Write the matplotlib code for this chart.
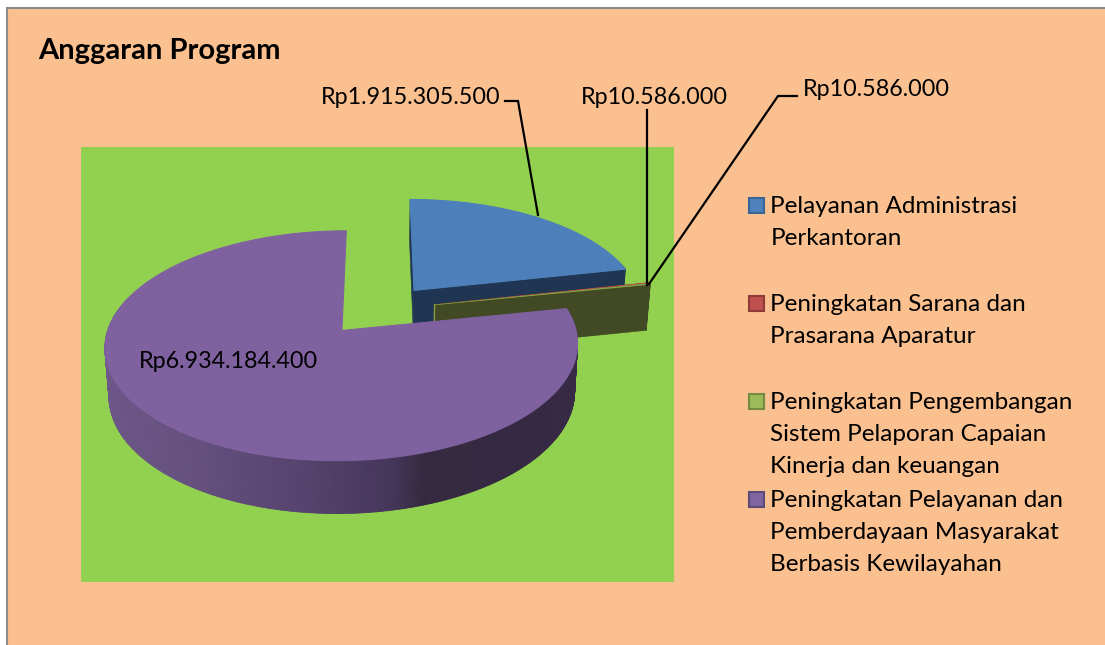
import numpy as np
import matplotlib
matplotlib.use("Agg")
import matplotlib.pyplot as plt
from matplotlib.patches import Polygon, Rectangle
from matplotlib.colors import to_rgb

# ---- data ----
title = "Anggaran Program"
values = [1915305500, 10586000, 10586000, 6934184400]
value_labels = ["Rp1.915.305.500", "Rp10.586.000", "Rp10.586.000", "Rp6.934.184.400"]
legend_labels = [
    ["Pelayanan Administrasi", "Perkantoran"],
    ["Peningkatan Sarana dan", "Prasarana Aparatur"],
    ["Peningkatan Pengembangan", "Sistem Pelaporan Capaian", "Kinerja dan keuangan"],
    ["Peningkatan Pelayanan dan", "Pemberdayaan Masyarakat", "Berbasis Kewilayahan"],
]
top_colors = ["#4d7fbb", "#c0504d", "#8a9f45", "#7f61a0"]
legend_fill = ["#4f81bd", "#c0504d", "#9bbb59", "#8064a2"]
legend_edges = ["#3a6595", "#8e3a38", "#728a42", "#5e4a78"]
side_colors = ["#1f3551", "#52211f", "#414a24", "#3f3258"]

# ---- geometry ----
W, H = 1105, 645
CX, CY, RX, RY = 379.0, 310.0, 228.5, 107.5
PERSP, EXPLODE_X, EXPLODE_Y, DEPTH, BOTTOM_SHRINK = 0.13, 0.25, 0.24, 47.0, 0.985

plt.rcParams["font.family"] = ["Lato", "DejaVu Sans"]
fig = plt.figure(figsize=(W / 100, H / 100), dpi=100, facecolor="white")
ax = fig.add_axes([0, 0, 1, 1])
ax.set_xlim(0, W)
ax.set_ylim(H, 0)
ax.axis("off")


def project(X, Y, bottom=False):
    s = 1.0 / (1.0 - PERSP * np.asarray(Y))
    x = CX + RX * np.asarray(X) * s
    y = CY + RY * np.asarray(Y) * s
    if bottom:
        x = CX + (x - CX) * BOTTOM_SHRINK
        y = y + DEPTH * s ** 0.7
    return np.column_stack([x, y])


def rim_shade(x):
    stops_x = [105, 200, 300, 390, 425, 520, 580]
    stops = [to_rgb(c) for c in ["#6d5789", "#644f7e", "#56436f", "#45365b", "#352941", "#342842", "#372b47"]]
    return tuple(np.interp(x, stops_x, [c[i] for c in stops]) for i in range(3))


# background
ax.add_patch(Rectangle((6.5, 7.5), W, H, fc="#fac090", ec="#8c8c8c", lw=1.5, zorder=0))
ax.add_patch(Rectangle((81, 147), 593, 435, fc="#92d050", ec="none", zorder=1))

# pie slices
fractions = np.array(values, dtype=float) / sum(values)
edges = np.concatenate([[0.0], np.cumsum(fractions)]) * 2 * np.pi
z = 2
for i in range(len(values)):
    a0, a1 = edges[i], edges[i + 1]
    mid = (a0 + a1) / 2
    ox, oy = EXPLODE_X * np.sin(mid), -EXPLODE_Y * np.cos(mid)
    th = np.linspace(a0, a1, max(3, int(np.degrees(a1 - a0) * 2)))
    Xr, Yr = ox + np.sin(th), oy - np.cos(th)
    top = project(Xr, Yr)
    bot = project(Xr, Yr, bottom=True)
    apex_t = project([ox], [oy])
    apex_b = project([ox], [oy], bottom=True)
    side = side_colors[i]
    # radial faces (the large last slice shows none of them)
    if i < 3:
        for k in (0, -1):
            pts = np.vstack([apex_t, top[k], bot[k], apex_b])
            ax.add_patch(Polygon(pts, fc=side, ec=side, lw=0.4, zorder=z))
    # outer rim, only where it faces the viewer
    for j in range(len(th) - 1):
        if -np.cos((th[j] + th[j + 1]) / 2) < -0.3:
            continue
        pts = np.vstack([top[j], top[j + 1], bot[j + 1], bot[j]])
        c = rim_shade(pts[:, 0].mean()) if i == 3 else side
        ax.add_patch(Polygon(pts, fc=c, ec=c, lw=0.6, zorder=z))
    if i == 2:
        # light edge along the exposed side face
        ax.plot([apex_t[0, 0], apex_b[0, 0]], [apex_t[0, 1], apex_b[0, 1]], color="#8a9f45", lw=1.0, zorder=z)
    # top surface
    pts = np.vstack([apex_t, top])
    lw = 0.8 if fractions[i] > 0.05 else 0.5
    ax.add_patch(Polygon(pts, fc=top_colors[i], ec=top_colors[i], lw=lw, zorder=z + 0.5, joinstyle="round"))
    z += 1

# leader lines
lines = [
    ([505, 518, 538], [101, 101, 215]),
    ([647, 647], [110, 285]),
    ([797, 778, 649], [96, 96, 284]),
]
for xs, ys in lines:
    ax.plot(xs, ys, color="black", lw=1.6, zorder=20, solid_joinstyle="miter")

ax.text(38.5, 51, title, color="black", fontsize=21, fontweight="bold", va="center", ha="left", zorder=30)
for label, (x, y) in zip(value_labels, [(321, 97), (581, 97), (803, 90), (139, 362)]):
    ax.text(x, y, label, color="black", fontsize=16.8, zorder=30, va="center", ha="left")

# legend
row_ys = [[205, 237], [303, 335], [401, 433, 465], [499, 531, 563]]
for rows, ys, fc, ec in zip(legend_labels, row_ys, legend_fill, legend_edges):
    ax.add_patch(Rectangle((749, ys[0] - 7.5), 15, 15, fc=fc, ec=ec, lw=1.5, zorder=30))
    for t, y in zip(rows, ys):
        ax.text(770.3, y + 1.5, t, color="black", fontsize=17.5, zorder=30, va="center", ha="left")

fig.savefig("out.png", dpi=100, facecolor="white")
